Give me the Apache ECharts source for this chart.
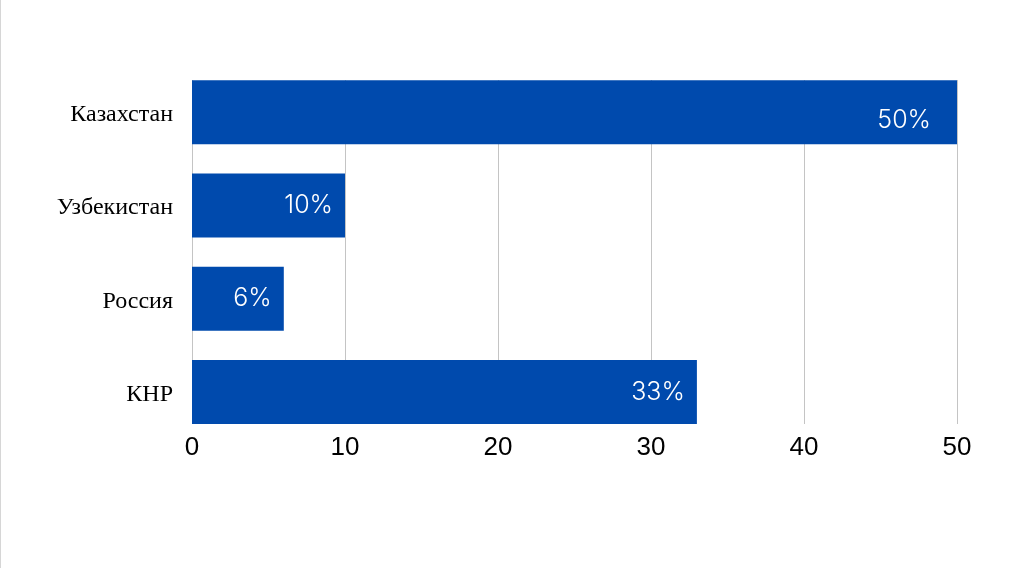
<!DOCTYPE html>
<html>
<head>
<meta charset="utf-8">
<script src="https://cdn.jsdelivr.net/npm/echarts@6/dist/echarts.min.js"></script>
<style>
html,body{margin:0;padding:0;background:#fff;}
#chart{width:1024px;height:573px;}
</style>
</head>
<body>
<div id="chart"></div>
<script>
const categories = ['Казахстан', 'Узбекистан', 'Россия', 'КНР'];
const values = [50, 10, 6, 33];
const valueLabels = ['50%', '10%', '6%', '33%'];
const xTicks = [0, 10, 20, 30, 40, 50];

const chart = echarts.init(document.getElementById('chart'), null, {renderer: 'canvas'});

const seriesData = values.map((v, i) => {
  const item = {value: v};
  if (i === 0) item.label = {distance: 26, offset: [0, 8]};
  return item;
});

const option = {
  animation: false,
  backgroundColor: '#ffffff',
  graphic: [{
    type: 'rect', left: 0, top: 0,
    shape: {x: 0, y: 0, width: 1, height: 568},
    style: {fill: '#d6d6d6'}, silent: true
  }],
  grid: [
    {left: 192, right: 67, top: 65.6, bottom: 134.3},
    {left: 192, right: 67, top: 80, bottom: 149}
  ],
  xAxis: [
    {gridIndex: 0, type: 'value', min: xTicks[0], max: xTicks[xTicks.length - 1], interval: 10,
     show: false, splitLine: {show: false}},
    {gridIndex: 1, type: 'value', min: xTicks[0], max: xTicks[xTicks.length - 1], interval: 10,
     axisLine: {show: false}, axisTick: {show: false},
     splitLine: {show: true, lineStyle: {color: '#c4c4c4', width: 1}},
     axisLabel: {color: '#000', fontFamily: 'Liberation Sans', fontSize: 26, margin: 11}}
  ],
  yAxis: [
    {gridIndex: 0, type: 'category', data: categories, inverse: true,
     axisLine: {show: false}, axisTick: {show: false}, splitLine: {show: false},
     axisLabel: {margin: 19,
                 formatter: v => '{c|' + v + '}',
                 rich: {c: {color: '#000', fontFamily: 'Liberation Serif', fontSize: 24,
                            padding: [5, 0, 0, 0]}}}},
    {gridIndex: 1, type: 'value', min: 0, max: 1, show: false, splitLine: {show: false}}
  ],
  series: [{
    type: 'bar',
    xAxisIndex: 0, yAxisIndex: 0,
    data: seriesData,
    barWidth: 64,
    itemStyle: {color: '#004AAD'},
    label: {
      show: true, position: 'insideRight', distance: 12,
      color: '#ffffff', fontFamily: 'Inter', fontSize: 25, fontWeight: 300,
      formatter: p => valueLabels[p.dataIndex]
    },
    z: 3
  }]
};
chart.setOption(option);
</script>
</body>
</html>
